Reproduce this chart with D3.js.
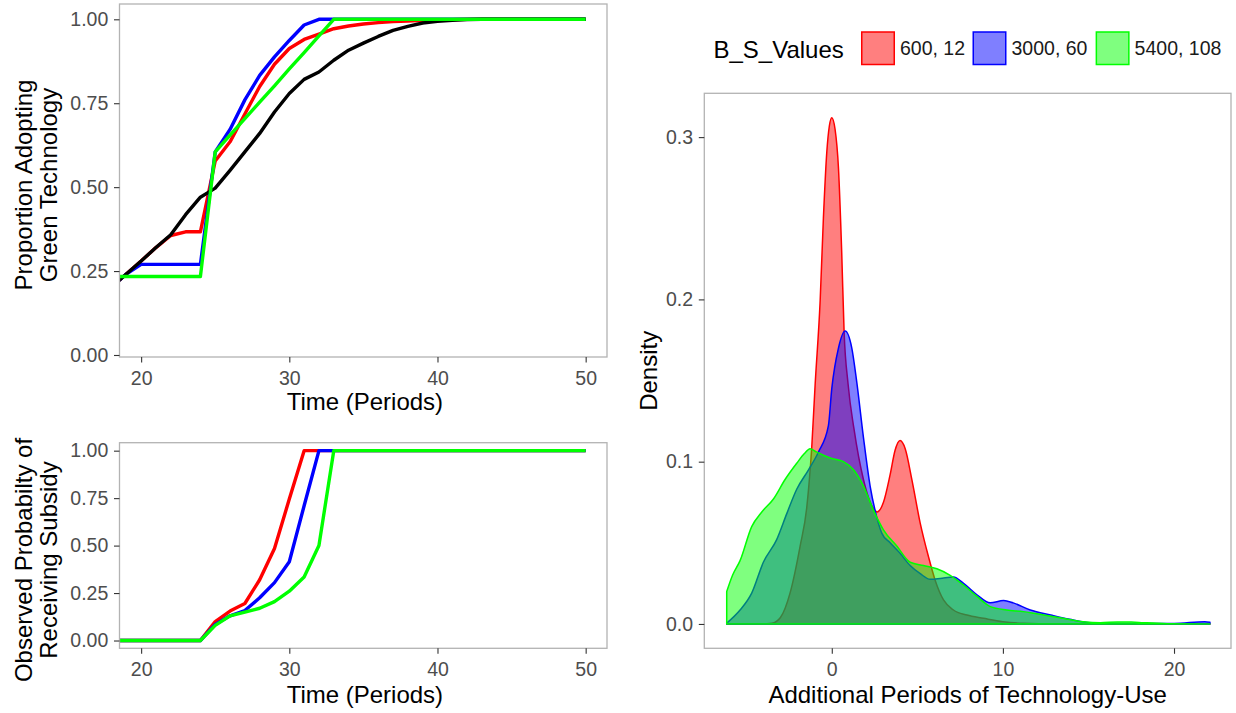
<!DOCTYPE html>
<html>
<head>
<meta charset="utf-8">
<script src="https://cdn.jsdelivr.net/npm/d3@7"></script>
<style>
  body { margin: 0; background: #fff; }
  svg { display: block; font-family: "Liberation Sans", Arial, Helvetica, sans-serif; }
</style>
</head>
<body>
<svg id="fig" width="1236" height="713"></svg>
<script>
// ---- data -------------------------------------------------------------
const periods = [18, 19, 20, 21, 22, 23, 24, 25, 26, 27, 28, 29, 30, 31, 32, 33, 34,
                 35, 36, 37, 38, 39, 40, 41, 42, 43, 44, 45, 46, 47, 48, 49, 50];

// proportion adopting green technology
const adoptBaseline = [0.202, 0.241, 0.280, 0.320, 0.358, 0.418, 0.470, 0.497, 0.550, 0.605, 0.660,
                       0.724, 0.779, 0.821, 0.843, 0.878, 0.908, 0.929, 0.949, 0.967, 0.979, 0.989,
                       0.994, 0.997, 0.999, 1, 1, 1, 1, 1, 1, 1, 1];
const adopt600 = [0.202, 0.241, 0.280, 0.320, 0.356, 0.367, 0.367, 0.578, 0.635, 0.718, 0.800,
                  0.866, 0.913, 0.940, 0.956, 0.972, 0.980, 0.986, 0.990, 0.993, 0.995, 0.997,
                  0.998, 0.999, 1, 1, 1, 1, 1, 1, 1, 1, 1];
const adopt3000 = [0.202, 0.241, 0.270, 0.270, 0.270, 0.270, 0.270, 0.605, 0.672, 0.760, 0.833,
                   0.888, 0.937, 0.983, 1, 1, 1, 1, 1, 1, 1, 1, 1, 1, 1, 1, 1, 1, 1, 1, 1, 1, 1];
const adopt5400 = [0.234, 0.234, 0.234, 0.234, 0.234, 0.234, 0.234, 0.605, 0.655, 0.704, 0.753,
                   0.802, 0.852, 0.901, 0.951, 1, 1, 1, 1, 1, 1, 1, 1, 1, 1, 1, 1, 1, 1, 1, 1, 1, 1];

// observed probability of receiving the subsidy
const subsidy600 = [0, 0, 0, 0, 0, 0, 0, 0.100, 0.155, 0.195, 0.320, 0.485, 0.745, 1,
                    1, 1, 1, 1, 1, 1, 1, 1, 1, 1, 1, 1, 1, 1, 1, 1, 1, 1, 1];
const subsidy3000 = [0, 0, 0, 0, 0, 0, 0, 0.085, 0.130, 0.158, 0.225, 0.305, 0.415, 0.710,
                     1, 1, 1, 1, 1, 1, 1, 1, 1, 1, 1, 1, 1, 1, 1, 1, 1, 1, 1];
const subsidy5400 = [0, 0, 0, 0, 0, 0, 0, 0.080, 0.130, 0.150, 0.170, 0.205, 0.260, 0.335,
                     0.500, 1, 1, 1, 1, 1, 1, 1, 1, 1, 1, 1, 1, 1, 1, 1, 1, 1, 1];

// density of additional periods of technology-use: [periods, density]
const density600 = [[-6.14, 0], [-4.5, 0], [-3.5, 0.0005], [-3.0, 0.004], [-2.44, 0.019], [-1.85, 0.048],
  [-1.46, 0.072], [-1.17, 0.109], [-0.97, 0.148], [-0.68, 0.199], [-0.49, 0.250], [-0.29, 0.291],
  [-0.14, 0.307], [0, 0.312], [0.19, 0.305], [0.39, 0.281], [0.58, 0.229], [0.72, 0.180],
  [0.95, 0.148], [1.3, 0.120], [1.85, 0.089], [2.44, 0.071], [2.65, 0.069], [3.02, 0.075],
  [3.41, 0.092], [3.70, 0.107], [3.99, 0.113], [4.29, 0.108], [4.68, 0.089], [5.17, 0.062],
  [5.65, 0.0415], [6.04, 0.027], [6.53, 0.0148], [7.11, 0.0086], [7.9, 0.0055], [8.87, 0.0035],
  [10.0, 0.0014], [11.2, 0.0004], [13, 0], [22.1, 0]];
const density3000 = [[-6.14, 0.0005], [-5.36, 0.0086], [-4.68, 0.019], [-4.0, 0.038], [-3.22, 0.052],
  [-2.63, 0.068], [-2.05, 0.083], [-1.36, 0.095], [-0.78, 0.106], [-0.2, 0.122], [0, 0.145],
  [0.39, 0.170], [0.78, 0.1805], [1.17, 0.170], [1.46, 0.149], [1.85, 0.115], [2.24, 0.085],
  [2.53, 0.070], [2.92, 0.056], [3.41, 0.050], [3.99, 0.0435], [4.58, 0.036], [5.17, 0.031],
  [5.75, 0.0275], [6.33, 0.028], [7.11, 0.029], [7.7, 0.025], [8.48, 0.018], [9.26, 0.013],
  [10.04, 0.0144], [10.6, 0.013], [11.6, 0.0086], [12.8, 0.0055], [13.9, 0.0029], [15.1, 0.0008],
  [17, 0.0003], [20, 0.0003], [21.8, 0.0014], [22.1, 0.001]];
const density5400 = [[-6.14, 0.020], [-5.8, 0.030], [-5.36, 0.039], [-4.68, 0.060], [-4.09, 0.069],
  [-3.41, 0.077], [-2.73, 0.089], [-2.05, 0.099], [-1.6, 0.105], [-1.27, 0.108], [-0.9, 0.106],
  [-0.49, 0.104], [0, 0.102], [0.68, 0.100], [1.27, 0.095], [1.85, 0.085], [2.44, 0.070],
  [3.02, 0.058], [3.80, 0.048], [4.58, 0.038], [5.36, 0.036], [6.14, 0.034], [6.92, 0.030],
  [7.70, 0.024], [8.48, 0.017], [9.26, 0.0107], [10.23, 0.0086], [11.2, 0.0076], [11.8, 0.0066],
  [12.4, 0.0055], [13.5, 0.0035], [14.7, 0.0014], [15.7, 0.0008], [16.7, 0.0012], [17.5, 0.0012],
  [18.2, 0.0008], [19.6, 0.0002], [22.1, 0]];

const groupLabels = ["600, 12", "3000, 60", "5400, 108"];
const legendTitle = "B_S_Values";
const timeTicks = [20, 30, 40, 50];
const proportionTicks = [0, 0.25, 0.5, 0.75, 1];
const densityXTicks = [0, 10, 20];
const densityYTicks = [0, 0.1, 0.2, 0.3];

// ---- styling ----------------------------------------------------------
const groupColors = ["#ff0000", "#0000ff", "#00ff00"];
const baselineColor = "#000000";
const tickFont = 19.5, titleFont = 24;
const textGrey = "#4d4d4d", tickGrey = "#333333", borderGrey = "#b3b3b3";

const svg = d3.select("#fig");

function drawAxes(g, x, y, w, h, xTicks, yTicks, xFmt, yFmt) {
  const ax = g.append("g").attr("transform", `translate(0,${h})`)
    .call(d3.axisBottom(x).tickValues(xTicks).tickFormat(xFmt).tickSize(5.5).tickPadding(8.7));
  const ay = g.append("g")
    .call(d3.axisLeft(y).tickValues(yTicks).tickFormat(yFmt).tickSize(5.5).tickPadding(5.7));
  [ax, ay].forEach(a => {
    a.select(".domain").remove();
    a.selectAll("line").attr("stroke", tickGrey).attr("stroke-width", 1.1);
    a.selectAll("text").attr("fill", textGrey).style("font-size", tickFont + "px")
      .style("font-family", "'Liberation Sans', Arial, sans-serif");
  });
}

function border(g, w, h) {
  g.append("rect").attr("x", 0).attr("y", 0).attr("width", w).attr("height", h)
    .attr("fill", "none").attr("stroke", borderGrey).attr("stroke-width", 1.3);
}

function panel(id, left, top, right, bottom) {
  const w = right - left, h = bottom - top;
  const g = svg.append("g").attr("transform", `translate(${left},${top})`);
  svg.append("defs").append("clipPath").attr("id", id)
    .append("rect").attr("width", w).attr("height", h);
  return { g, w, h };
}

// ---- top left: proportion adopting ------------------------------------
{
  const { g, w, h } = panel("clipTop", 119.5, 4, 607, 357);
  const x = d3.scaleLinear().domain([18.54, 51.44]).range([0, w]);
  const y = d3.scaleLinear().domain([-0.006, 1.0456]).range([h, 0]);
  const line = d3.line().x((d, i) => x(periods[i])).y(d => y(d));
  const layer = g.append("g").attr("clip-path", "url(#clipTop)");
  const series = [
    { v: adopt600, c: groupColors[0] },
    { v: adopt3000, c: groupColors[1] },
    { v: adoptBaseline, c: baselineColor },
    { v: adopt5400, c: groupColors[2] }
  ];
  series.forEach(s => layer.append("path").attr("d", line(s.v)).attr("fill", "none")
    .attr("stroke", s.c).attr("stroke-width", 3.4).attr("stroke-linejoin", "round"));
  border(g, w, h);
  drawAxes(g, x, y, w, h, timeTicks, proportionTicks, d3.format("d"), d3.format(".2f"));
  svg.append("text").attr("x", 119.5 + x(35.1)).attr("y", 410).attr("text-anchor", "middle")
    .style("font-size", titleFont + "px").text("Time (Periods)");
  const yt = svg.append("g").attr("transform", "translate(0,185) rotate(-90)");
  yt.append("text").attr("x", 0).attr("y", 31.5).attr("text-anchor", "middle")
    .style("font-size", titleFont + "px").text("Proportion Adopting");
  yt.append("text").attr("x", 0).attr("y", 56.5).attr("text-anchor", "middle")
    .style("font-size", titleFont + "px").text("Green Technology");
}

// ---- bottom left: probability of receiving subsidy ---------------------
{
  const { g, w, h } = panel("clipBottom", 119.5, 442.7, 607, 648.3);
  const x = d3.scaleLinear().domain([18.54, 51.44]).range([0, w]);
  const y = d3.scaleLinear().domain([-0.041, 1.042]).range([h, 0]);
  const line = d3.line().x((d, i) => x(periods[i])).y(d => y(d));
  const layer = g.append("g").attr("clip-path", "url(#clipBottom)");
  [subsidy600, subsidy3000, subsidy5400].forEach((v, i) =>
    layer.append("path").attr("d", line(v)).attr("fill", "none")
      .attr("stroke", groupColors[i]).attr("stroke-width", 3.4).attr("stroke-linejoin", "round"));
  border(g, w, h);
  drawAxes(g, x, y, w, h, timeTicks, proportionTicks, d3.format("d"), d3.format(".2f"));
  svg.append("text").attr("x", 119.5 + x(35.1)).attr("y", 702.5).attr("text-anchor", "middle")
    .style("font-size", titleFont + "px").text("Time (Periods)");
  const yt = svg.append("g").attr("transform", "translate(0,560) rotate(-90)");
  yt.append("text").attr("x", 0).attr("y", 31.5).attr("text-anchor", "middle")
    .style("font-size", titleFont + "px").text("Observed Probabilty of");
  yt.append("text").attr("x", 0).attr("y", 56.5).attr("text-anchor", "middle")
    .style("font-size", titleFont + "px").text("Receiving Subsidy");
}

// ---- right: density of additional periods -----------------------------
{
  const { g, w, h } = panel("clipRight", 704.3, 93.3, 1231, 648.3);
  const x = d3.scaleLinear().domain([-7.45, 23.33]).range([0, w]);
  const y = d3.scaleLinear().domain([-0.015, 0.327]).range([h, 0]);
  const area = d3.area().curve(d3.curveMonotoneX)
    .x(d => x(d[0])).y0(y(0)).y1(d => y(d[1]));
  [density600, density3000, density5400].forEach((d, i) => {
    g.append("path").attr("d", area(d))
      .attr("fill", groupColors[i]).attr("fill-opacity", 0.5)
      .attr("stroke", groupColors[i]).attr("stroke-width", 1.5).attr("stroke-linejoin", "round");
  });
  border(g, w, h);
  drawAxes(g, x, y, w, h, densityXTicks, densityYTicks, d3.format("d"), d3.format(".1f"));
  svg.append("text").attr("x", 704.3 + w / 2).attr("y", 702.5).attr("text-anchor", "middle")
    .style("font-size", titleFont + "px").text("Additional Periods of Technology-Use");
  svg.append("text").attr("transform", `translate(657,${93.3 + h / 2}) rotate(-90)`)
    .attr("text-anchor", "middle").style("font-size", titleFont + "px").text("Density");

  // legend
  const lg = svg.append("g");
  lg.append("text").attr("x", 713.5).attr("y", 57.5).style("font-size", titleFont + "px").text(legendTitle);
  const keyX = [861, 972.5, 1095.6];
  groupLabels.forEach((lab, i) => {
    lg.append("rect").attr("x", keyX[i] + 0.75).attr("y", 32).attr("width", 32.5).attr("height", 32.5)
      .attr("fill", groupColors[i]).attr("fill-opacity", 0.5)
      .attr("stroke", groupColors[i]).attr("stroke-width", 1.5);
    lg.append("text").attr("x", keyX[i] + 39).attr("y", 55.3)
      .style("font-size", tickFont + "px").attr("fill", "#1a1a1a").text(lab);
  });
}
</script>
</body>
</html>
